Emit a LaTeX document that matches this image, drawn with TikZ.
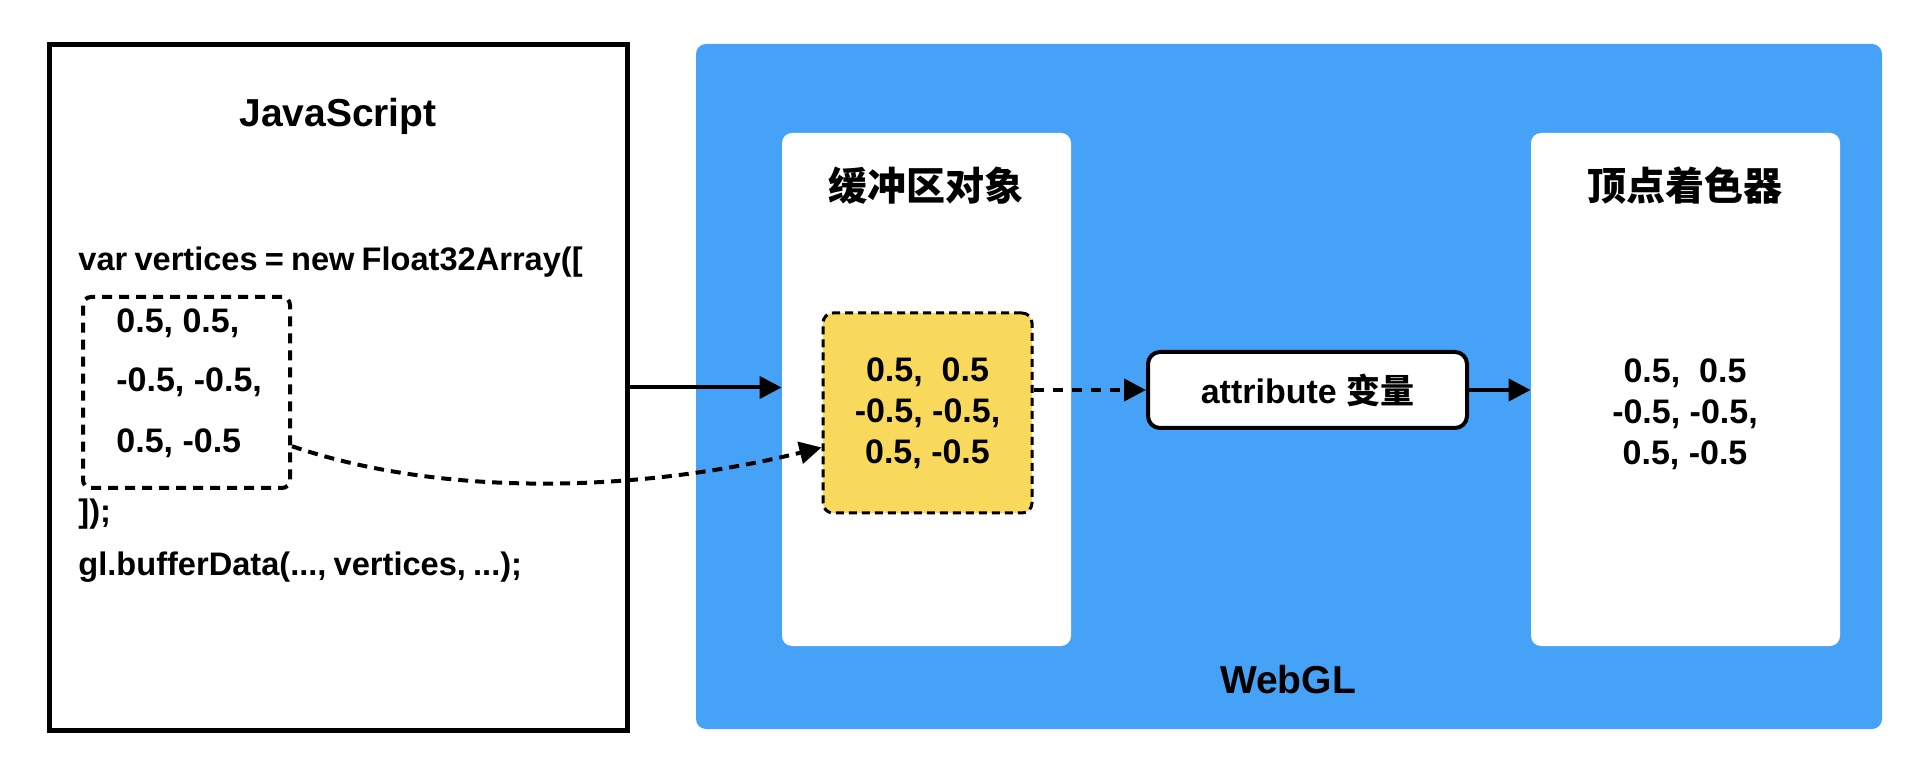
\documentclass[tikz,border=0pt]{standalone}
\usepackage{fontspec}
\setmainfont{Liberation Sans}
\newfontfamily\cjk{Noto Sans CJK SC}
\usepackage{tikz}
\usetikzlibrary{arrows.meta}
\definecolor{GLBlue}{HTML}{46A2F7}
\definecolor{BufYellow}{HTML}{F9D95B}
\newcommand{\bodyfont}{\fontsize{17}{20.5}\selectfont\bfseries}
\newcommand{\codefont}{\fontsize{16.3}{20}\selectfont\bfseries\spaceskip=0.22em\relax}
\newcommand{\titlefont}{\fontsize{19.5}{23}\selectfont\bfseries}

\begin{document}
\begin{tikzpicture}[x=0.5pt, y=-0.5pt, >={Triangle[length=11pt,width=11pt]}]
  \tikzstyle{code}=[anchor=base west, inner sep=0pt, font=\codefont]
  \tikzstyle{row}=[anchor=base west, inner sep=0pt, font=\bodyfont]
  \tikzstyle{wbox}=[fill=white, rounded corners=5pt, inner sep=0pt, minimum height=256.5pt]
  \tikzstyle{ttl}=[font=\cjk\titlefont]
  \tikzstyle{conn}=[->, line width=2pt]
  \useasboundingbox (0,0) rectangle (1928,780);
  % JavaScript side
  \node[draw, line width=2.5pt, minimum width=289pt, minimum height=342.5pt] (jsbox) at (338,387.5) {};
  \node[font=\titlefont, anchor=base, inner sep=0pt] (jstitle) at (338,127) {JavaScript};
  \node[code] (decl) at (78,271) {var vertices = new Float32Array([};
  \node[draw, dashed, line width=2pt, dash pattern=on 5pt off 3.5pt, rounded corners=4pt,
        minimum width=103.5pt, minimum height=95.5pt] (vdata) at (186.5,392.5) {};
  \node[row] (row1) at (116,333) {0.5, 0.5,};
  \node[row] (row2) at (116,392) {-0.5, -0.5,};
  \node[row] (row3) at (116,453) {0.5, -0.5};
  \node[code] (close) at (78,523) {]);};
  \node[code] (bufcall) at (78,575) {gl.bufferData(..., vertices, ...);};
  % WebGL side
  \node[fill=GLBlue, rounded corners=5pt, minimum width=593pt, minimum height=342.5pt] (webgl) at (1289,386.5) {};
  \node[font=\titlefont] (gltitle) at (1288,680) {WebGL};
  \node[wbox, minimum width=144.5pt] (bufbox) at (926.5,389.5) {};
  \node[ttl] (buftitle) at (926,186) {缓冲区对象};
  \node[draw, fill=BufYellow, line width=1.5pt, dash pattern=on 4pt off 2.5pt, rounded corners=5pt,
        minimum width=104.5pt, minimum height=100pt, align=center, font=\bodyfont] (ydata) at (927.5,413)
        {0.5,\ \ 0.5\\-0.5, -0.5,\\0.5, -0.5};
  \node[draw, fill=white, line width=2pt, rounded corners=6pt, minimum width=159.5pt, minimum height=38pt,
        font=\bodyfont] (attr) at (1307.5,390) {attribute {\cjk 变量}};
  \node[wbox, minimum width=154.5pt] (vsbox) at (1685.5,389.5) {};
  \node[ttl] (vstitle) at (1685,186) {顶点着色器};
  \node[align=center, font=\bodyfont] (vstext) at (1685,414) {0.5,\ \ 0.5\\-0.5, -0.5,\\0.5, -0.5};
  % connectors
  \draw[conn] (jsbox.east) -- (jsbox.east -| bufbox.west);
  \draw[conn, dash pattern=on 5pt off 4.5pt] (ydata.east |- attr.west) -- (attr.west);
  \draw[conn] (attr.east) -- (attr.east -| vsbox.west);
  \draw[conn, dash pattern=on 5pt off 3.5pt] (vdata.-27) .. controls (450,500) and (650,490) .. (ydata.198);
\end{tikzpicture}
\end{document}
